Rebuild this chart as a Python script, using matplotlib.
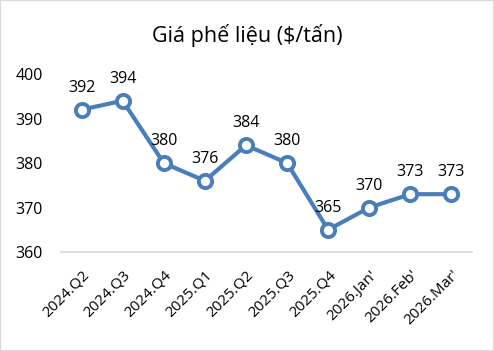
import matplotlib
matplotlib.use("Agg")
import matplotlib.pyplot as plt
from matplotlib.patches import Rectangle
from matplotlib.transforms import ScaledTranslation

categories = ["2024.Q2", "2024.Q3", "2024.Q4", "2025.Q1", "2025.Q2", "2025.Q3",
              "2025.Q4", "2026.Jan'", "2026.Feb'", "2026.Mar'"]
values = [392, 394, 380, 376, 384, 380, 365, 370, 373, 373]
yticks = [360, 370, 380, 390, 400]
title = "Giá phế liệu ($/tấn)"

plt.rcParams['font.family'] = ['Open Sans', 'DejaVu Sans']

fig = plt.figure(figsize=(4.94, 3.51), dpi=100)
fig.patches.append(Rectangle((0, 0), 1, 1, transform=fig.transFigure, fill=False,
                             edgecolor="#d9d9d9", linewidth=1.5))
ax = fig.add_axes([0.1235, 0.282, 0.832, 0.507])
x = list(range(len(categories)))
color = "#4a7ebb"
ax.plot(x, values, color=color, lw=3.0, marker="o", ms=9.5, mfc="white",
        mec=color, mew=2.8, clip_on=False, zorder=3)
for xi, v in zip(x, values):
    ax.annotate(str(v), (xi, v), xytext=(0, 10), textcoords="offset points",
                ha="center", va="bottom", fontsize=11.5, color="#000000")
ax.set_xlim(-0.5, len(categories) - 0.5)
ax.set_ylim(360, 400)
ax.set_yticks(yticks)
ax.set_yticklabels([str(t) for t in yticks], fontsize=11.5)
ax.set_xticks(x)
ax.set_xticklabels(categories, rotation=45, ha="right", rotation_mode="anchor", fontsize=11)
shift = ScaledTranslation(5 / 100, 0, fig.dpi_scale_trans)
for lab in ax.get_xticklabels():
    lab.set_transform(lab.get_transform() + shift)
for s in ["top", "right", "left"]:
    ax.spines[s].set_visible(False)
ax.spines["bottom"].set_color("#d9d9d9")
ax.spines["bottom"].set_linewidth(1.2)
ax.tick_params(axis="both", length=0)
ax.tick_params(axis="x", pad=11)
ax.tick_params(axis="y", pad=13)
fig.text(0.5, 0.9, title, ha="center", va="center", fontsize=15.5)
fig.savefig("out.png", dpi=100)
